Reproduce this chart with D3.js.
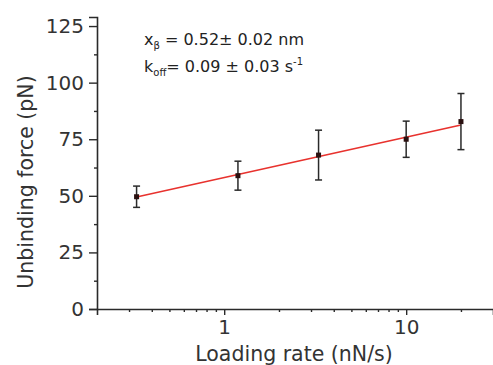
<!DOCTYPE html>
<html><head><meta charset="utf-8">
<script src="https://cdn.jsdelivr.net/npm/d3@7/dist/d3.min.js"></script>
<style>
html,body{margin:0;padding:0;background:#fff;}
svg{display:block;font-family:"DejaVu Sans",sans-serif;}
</style></head>
<body><svg id="c" width="493" height="365"></svg>
<script>
// Data
const loadingRate = [0.33, 1.19, 3.3, 10, 20];          // nN/s
const force       = [49.6, 58.9, 68.0, 75.0, 82.8];     // pN
const forceErr    = [4.7, 6.4, 11.0, 8.0, 12.4];        // pN
const fitRate     = [0.33, 20];
const fitForce    = [49.5, 81.3];
const yMajorTicks = [0, 25, 50, 75, 100, 125];
const yMinorTicks = [12.5, 37.5, 62.5, 87.5, 112.5];
const xMajorTicks = [1, 10];
const xMinorTicks = [0.3,0.4,0.5,0.6,0.7,0.8,0.9,2,3,4,5,6,7,8,9,20];

const svg = d3.select("#c");
const x = d3.scaleLog().domain([0.2, 30]).range([97, 493]);
const y = d3.scaleLinear().domain([0, 129]).range([309, 17]);
const ink = "#2a2a2a";

// Axes
const gx = svg.append("g").attr("transform", `translate(0,${y(0)})`);
gx.call(d3.axisBottom(x).tickValues(xMajorTicks).tickFormat(d3.format("d")).tickSize(6).tickPadding(5));
gx.append("g").call(d3.axisBottom(x).tickValues(xMinorTicks).tickFormat("").tickSize(3))
  .select(".domain").remove();

const gy = svg.append("g").attr("transform", `translate(${x(0.2)},0)`);
gy.call(d3.axisLeft(y).tickValues(yMajorTicks).tickFormat(d3.format("d")).tickSize(8).tickPadding(5));
gy.append("g").call(d3.axisLeft(y).tickValues(yMinorTicks).tickFormat("").tickSize(3))
  .select(".domain").remove();

svg.selectAll(".domain").attr("stroke", ink).attr("stroke-width", 1.6);
svg.selectAll(".tick line").attr("stroke", ink).attr("stroke-width", 1.4);
svg.selectAll(".tick text").attr("fill", "#333").attr("font-size", 20).attr("font-family", "DejaVu Sans");

// Axis titles
svg.append("text").attr("x", 294).attr("y", 361).attr("text-anchor", "middle")
  .attr("font-size", 20.5).attr("fill", "#333").text("Loading rate (nN/s)");
svg.append("text").attr("transform", "translate(33,182) rotate(-90)").attr("text-anchor", "middle")
  .attr("font-size", 20.5).attr("fill", "#333").text("Unbinding force (pN)");

// Fit line
const fitData = fitRate.map((r, i) => [r, fitForce[i]]);
svg.append("path").datum(fitData)
  .attr("d", d3.line().x(d => x(d[0])).y(d => y(d[1])))
  .attr("fill", "none").attr("stroke", "#e8322e").attr("stroke-width", 1.6);

// Error bars
const pts = loadingRate.map((r, i) => ({r, f: force[i], e: forceErr[i]}));
const eb = svg.append("g").attr("stroke", ink).attr("stroke-width", 1.5);
eb.selectAll("line.v").data(pts).join("line").attr("class","v")
  .attr("x1", d => x(d.r)).attr("x2", d => x(d.r))
  .attr("y1", d => y(d.f - d.e)).attr("y2", d => y(d.f + d.e));
eb.selectAll("line.t").data(pts).join("line").attr("class","t")
  .attr("x1", d => x(d.r) - 3.5).attr("x2", d => x(d.r) + 3.5)
  .attr("y1", d => y(d.f + d.e)).attr("y2", d => y(d.f + d.e));
eb.selectAll("line.b").data(pts).join("line").attr("class","b")
  .attr("x1", d => x(d.r) - 3.5).attr("x2", d => x(d.r) + 3.5)
  .attr("y1", d => y(d.f - d.e)).attr("y2", d => y(d.f - d.e));

// Markers
svg.selectAll("rect.m").data(pts).join("rect").attr("class","m")
  .attr("x", d => x(d.r) - 2.5).attr("y", d => y(d.f) - 2.5)
  .attr("width", 5).attr("height", 5).attr("fill", "#2a1010");

// Annotation
const t1 = svg.append("text").attr("x", 144).attr("y", 45).attr("font-size", 16).attr("fill", "#222");
t1.append("tspan").text("x");
t1.append("tspan").attr("font-size", 10).attr("dy", 4).text("β");
t1.append("tspan").attr("dy", -4).text(" = 0.52± 0.02 nm");
const t2 = svg.append("text").attr("x", 144).attr("y", 72).attr("font-size", 16).attr("fill", "#222");
t2.append("tspan").text("k");
t2.append("tspan").attr("font-size", 10).attr("dy", 4).text("off");
t2.append("tspan").attr("dy", -4).text("= 0.09 ± 0.03 s");
t2.append("tspan").attr("font-size", 10).attr("dy", -7).text("-1");
</script></body></html>
